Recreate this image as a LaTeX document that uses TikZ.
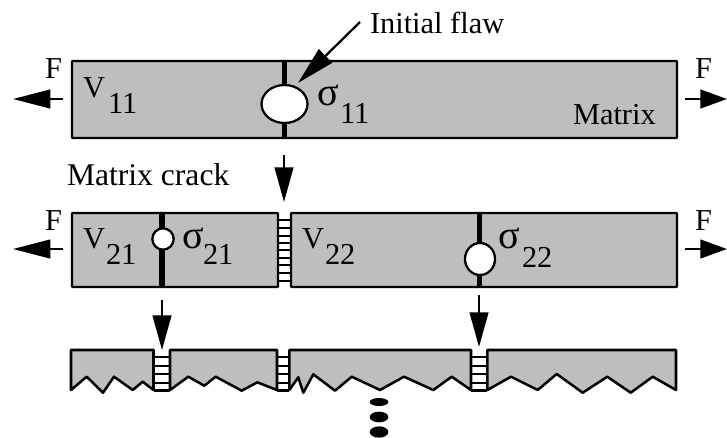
\documentclass[tikz,border=0pt]{standalone}
\usepackage{fontspec}
\setmainfont{Liberation Serif}
\usetikzlibrary{arrows.meta,shapes.geometric}
\definecolor{barfill}{gray}{0.745}
\tikzset{
  barbox/.style={draw=black,fill=barfill,line width=1.7pt,rounded corners=0.5pt,rectangle,inner sep=0pt,outer sep=0pt},
  flawline/.style={line width=3.9pt,draw=black},
  hole/.style={draw=black,fill=white,line width=1.7pt,ellipse,inner sep=0pt,outer sep=0pt},
  bigarrow/.style={draw=black,line width=1.7pt,-{Triangle[length=26pt,width=14pt]}},
  flawarrow/.style={draw=black,line width=1.7pt,-{Triangle[length=29pt,width=14pt]}},
  leftarrow/.style={draw=black,line width=1.7pt,-{Triangle[length=28pt,width=14pt]}},
  rightarrow/.style={draw=black,line width=1.7pt,-{Triangle[length=20pt,width=14pt]}},
  rung/.style={draw=black,line width=1.6pt},
  piece/.style={draw=black,fill=barfill,line width=1.9pt,line join=round},
  lbl/.style={inner sep=0pt,outer sep=0pt,anchor=base west,font=\fontsize{22.8}{26}\selectfont},
  widelbl/.style={lbl,font=\fontsize{23.7}{26}\selectfont},
  sig/.style={inner sep=0pt,outer sep=0pt,anchor=base west,font=\fontsize{30}{33}\selectfont},
  dotmark/.style={fill=black,draw=none,ellipse,inner sep=0pt,outer sep=0pt}
}
\begin{document}
\begin{tikzpicture}[x=0.75pt,y=-0.75pt]
\useasboundingbox (0,0) rectangle (727,437);
% top bar
\node[barbox,minimum width=453.75pt,minimum height=57.75pt] (b1) at (374.5,99.5) {};
\coordinate (f1) at (284.5,104);
\draw[flawline] (f1 |- b1.north) -- (f1 |- b1.south);
\node[hole,minimum width=34.5pt,minimum height=28.5pt] (h1) at (f1) {};
% middle bars
\node[barbox,minimum width=154.5pt,minimum height=55.5pt] (b2) at (175,250) {};
\node[barbox,minimum width=289.5pt,minimum height=55.5pt] (b3) at (484,250) {};
\coordinate (f2) at (162,239);
\coordinate (f3) at (479.5,259);
\draw[flawline] (f2 |- b2.north) -- (f2 |- b2.south);
\draw[flawline] (f3 |- b3.north) -- (f3 |- b3.south);
\node[hole,minimum width=16pt,minimum height=16pt] (h2) at (163,239) {};
\node[hole,minimum width=22.5pt,minimum height=24pt] (h3) at (480,259) {};
\foreach \y in {220,228,236,243,250,258,265,273,281}
  \draw[rung] (b2.east |- 0,\y) -- (b3.west |- 0,\y);
% bottom pieces
\draw[piece] (71,390) -- (71,350) -- (153.5,350) -- (153.5,390) -- (142.7,381.7) -- (132.7,390) -- (114,376.7) -- (103,392.7) -- (86.7,376.7) -- cycle;
\draw[piece] (170,390) -- (170,350) -- (277,350) -- (277,390) -- (257.3,382.3) -- (241.7,390.7) -- (215.7,376.7) -- (204.3,385.7) -- (188.3,376.7) -- cycle;
\draw[piece] (289.3,390) -- (289.3,350) -- (471,350) -- (471,390) -- (451.7,376.7) -- (433.3,390) -- (404,376.7) -- (380,390) -- (351.7,376.7) -- (335,390.7) -- (313.3,374.3) -- (303.3,392.7) -- (298.3,377.3) -- cycle;
\draw[piece] (487.3,390) -- (487.3,350) -- (676,350) -- (676,390) -- (652.7,376.7) -- (630.7,392.7) -- (607.3,376.7) -- (582.7,392.7) -- (556.7,374) -- (537.7,390) -- (511,376.7) -- cycle;
\foreach \a/\b in {153.5/170,277/289.3,471/487.3}{
  \foreach \y in {357,366,374,383,390.5}
    \draw[rung] (\a,\y) -- (\b,\y);
}
% dots
\node[dotmark,minimum width=14pt,minimum height=6pt] (d1) at (379,402) {};
\node[dotmark,minimum width=14pt,minimum height=8pt] (d2) at (379,417) {};
\node[dotmark,minimum width=14pt,minimum height=8.5pt] (d3) at (379,432) {};
% arrows
\coordinate (flawtail) at (360,22);
\coordinate (flawtip) at (298,83);
\draw[flawarrow] (flawtail) -- (flawtip);
\coordinate (a1s) at (284,155); \coordinate (a1e) at (284,202);
\draw[bigarrow] (a1s) -- (a1e);
\coordinate (a2s) at (162,300); \coordinate (a2e) at (162,350);
\draw[bigarrow] (a2s) -- (a2e);
\coordinate (a3s) at (479,295); \coordinate (a3e) at (479,347);
\draw[bigarrow] (a3s) -- (a3e);
\coordinate (l1s) at (63,99); \coordinate (l1e) at (13,99);
\draw[leftarrow] (l1s) -- (l1e);
\coordinate (r1s) at (685,99); \coordinate (r1e) at (727,99);
\draw[rightarrow] (r1s) -- (r1e);
\coordinate (l2s) at (63,249); \coordinate (l2e) at (13,249);
\draw[leftarrow] (l2s) -- (l2e);
\coordinate (r2s) at (685,249); \coordinate (r2e) at (727,249);
\draw[rightarrow] (r2s) -- (r2e);
% labels
\node[lbl] (t1) at (370,33) {Initial flaw};
\node[lbl] (t2) at (573,124) {Matrix};
\node[widelbl] (t3) at (67,185) {Matrix crack};
\node[lbl] (f11) at (45,78) {F};
\node[lbl] (f12) at (695,78) {F};
\node[lbl] (f21) at (45,230) {F};
\node[lbl] (f22) at (695,230) {F};
\node[lbl] (v11) at (83,97) {V};
\node[lbl] (v11s) at (108,113) {11};
\node[sig] (s11) at (317,105) {σ};
\node[lbl] (s11s) at (340,123) {11};
\node[lbl] (v21) at (83,248) {V};
\node[lbl] (v21s) at (106,264) {21};
\node[sig] (s21) at (182,248) {σ};
\node[lbl] (s21s) at (203,264) {21};
\node[lbl] (v22) at (302,248) {V};
\node[lbl] (v22s) at (325,264) {22};
\node[sig] (s22) at (498,248) {σ};
\node[lbl] (s22s) at (522,267) {22};
\end{tikzpicture}
\end{document}
